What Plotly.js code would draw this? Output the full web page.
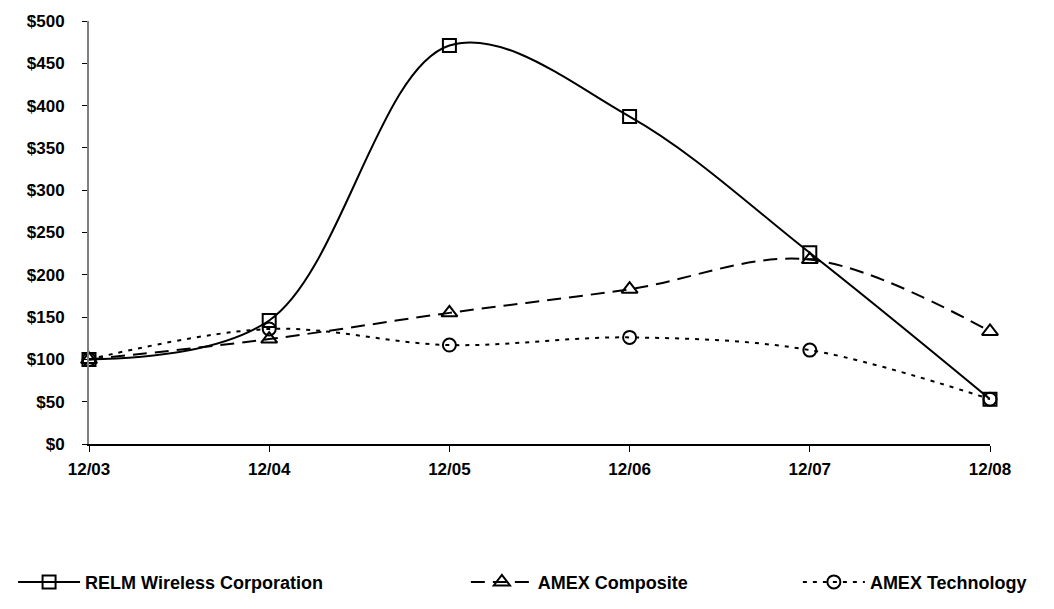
<!DOCTYPE html>
<html>
<head>
<meta charset="utf-8">
<script src="https://cdn.plot.ly/plotly-3.0.1.min.js"></script>
<style>
html,body{margin:0;padding:0;background:#fff;}
#chart{width:1054px;height:609px;}
</style>
</head>
<body>
<div id="chart"></div>
<script>
const categories = ["12/03", "12/04", "12/05", "12/06", "12/07", "12/08"];
const relm = [100, 146, 471, 387, 226, 53];
const amexComposite = [100, 124, 155, 183, 218, 133];
const amexTechnology = [100, 136, 117, 126, 111, 53];
const yTicks = [0, 50, 100, 150, 200, 250, 300, 350, 400, 450, 500];
const yTickLabels = yTicks.map(v => "$" + v);

const FONT = "Liberation Sans, Arial, sans-serif";

const traces = [
  {
    x: categories, y: relm, name: "RELM Wireless Corporation",
    type: "scatter", mode: "lines+markers", cliponaxis: false,
    line: {color: "#000", width: 2, shape: "spline", smoothing: 1},
    marker: {symbol: "square-open", size: 13, color: "#000", line: {width: 2, color: "#000"}},
    legend: "legend"
  },
  {
    x: categories, y: amexComposite, name: "AMEX Composite",
    type: "scatter", mode: "lines+markers", cliponaxis: false,
    line: {color: "#000", width: 2, shape: "spline", smoothing: 1, dash: "14px,8px"},
    marker: {symbol: "triangle-up-open", size: 14, color: "#000", line: {width: 2, color: "#000"}},
    legend: "legend2"
  },
  {
    x: categories, y: amexTechnology, name: "AMEX Technology",
    type: "scatter", mode: "lines+markers", cliponaxis: false,
    line: {color: "#000", width: 2, shape: "spline", smoothing: 1, dash: "4px,6px"},
    marker: {symbol: "circle-open", size: 13, color: "#000", line: {width: 2, color: "#000"}},
    legend: "legend3"
  }
];

const legendBase = {
  orientation: "h", yanchor: "middle", xanchor: "left",
  xref: "container", yref: "container", y: 0.044,
  font: {family: FONT, size: 18, color: "#000", weight: "bold"},
  bgcolor: "rgba(0,0,0,0)", itemwidth: 62
};

const layout = {
  width: 1054, height: 609,
  margin: {l: 89, r: 64, t: 21, b: 165},
  paper_bgcolor: "#fff", plot_bgcolor: "#fff",
  font: {family: FONT, color: "#000"},
  showlegend: true,
  xaxis: {
    type: "category", range: [0, 5], automargin: false,
    showgrid: false, zeroline: false,
    showline: true, linecolor: "#000", linewidth: 1.5,
    ticks: "outside", ticklen: 6, tickcolor: "#000", tickwidth: 1,
    tickfont: {family: FONT, size: 17, weight: "bold", color: "#000"},
    ticklabelstandoff: 3
  },
  yaxis: {
    range: [0, 500], tickvals: yTicks, ticktext: yTickLabels, automargin: false,
    showgrid: false, zeroline: false,
    showline: true, linecolor: "#808080", linewidth: 2,
    ticks: "outside", ticklen: 5, tickcolor: "#000", tickwidth: 1,
    tickfont: {family: FONT, size: 17, weight: "bold", color: "#000"},
    ticklabelstandoff: 14
  },
  legend: Object.assign({}, legendBase, {x: 0.0124}),
  legend2: Object.assign({}, legendBase, {x: 0.442}),
  legend3: Object.assign({}, legendBase, {x: 0.757})
};

Plotly.newPlot("chart", traces, layout, {displayModeBar: false, staticPlot: true});
</script>
</body>
</html>
